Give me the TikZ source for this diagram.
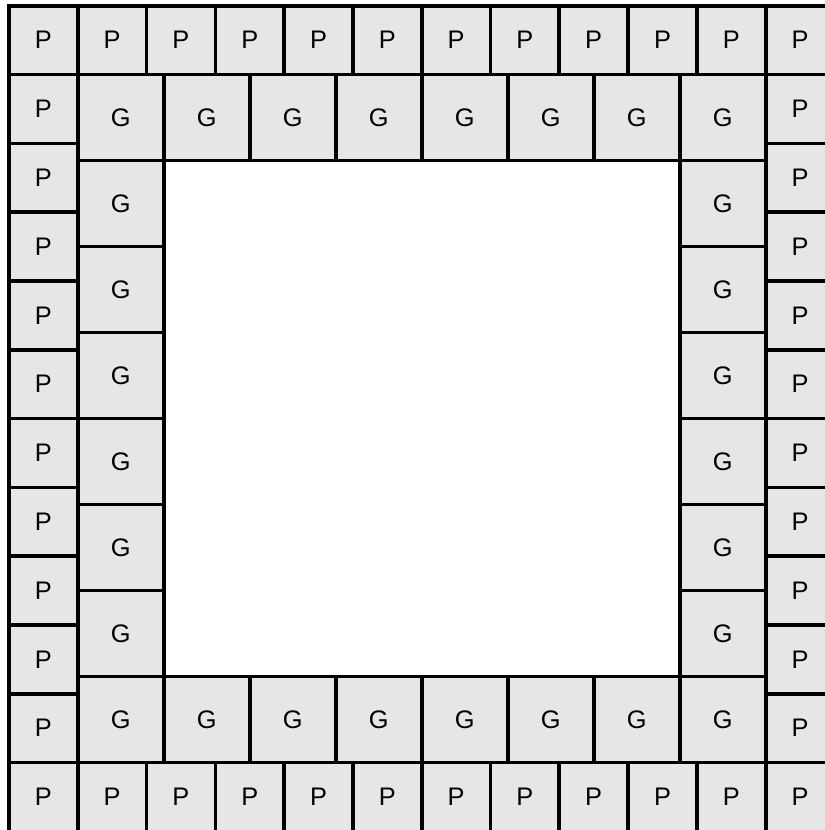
\documentclass[tikz,border=0pt]{standalone}
\usepackage{fontspec}
\setsansfont{Liberation Sans}
\usepackage{tikz}
\usetikzlibrary{positioning}
\definecolor{cellgray}{RGB}{230, 230, 230}

\begin{document}
\begin{tikzpicture}[
        every node/.style={font=\sffamily\fontsize{10.5}{12}\selectfont},
        pbox/.style={rectangle, draw=black, line width=1.5pt, fill=cellgray, inner sep=0pt, outer sep=0pt, minimum width=1cm, minimum height=1cm},
        gbox/.style={pbox, minimum width=1.25cm, minimum height=1.25cm}
    ]
    \useasboundingbox (-0.13,0.085) rectangle (11.86,-11.98);
    \clip (-0.13,0.085) rectangle (11.86,-11.98);

    % Outer ring (P)
    \foreach \i in {0,...,11} {
        \node[pbox] (pT\i) at (\i+0.5,-0.5) {P};
        \node[pbox] (pB\i) at (\i+0.5,-11.5) {P};
    }
    \foreach \k in {1,...,10} {
        \node[pbox] (pL\k) at (0.5,-\k-0.5) {P};
        \node[pbox] (pR\k) at (11.5,-\k-0.5) {P};
    }

    % Inner ring (G)
    \foreach \j in {0,...,7} {
        \node[gbox] (gT\j) at (1.625+1.25*\j,-1.625) {G};
        \node[gbox] (gB\j) at (1.625+1.25*\j,-10.375) {G};
    }
    \foreach \m in {1,...,6} {
        \node[gbox] (gL\m) at (1.625,-1.625-1.25*\m) {G};
        \node[gbox] (gR\m) at (10.375,-1.625-1.25*\m) {G};
    }
\end{tikzpicture}
\end{document}
